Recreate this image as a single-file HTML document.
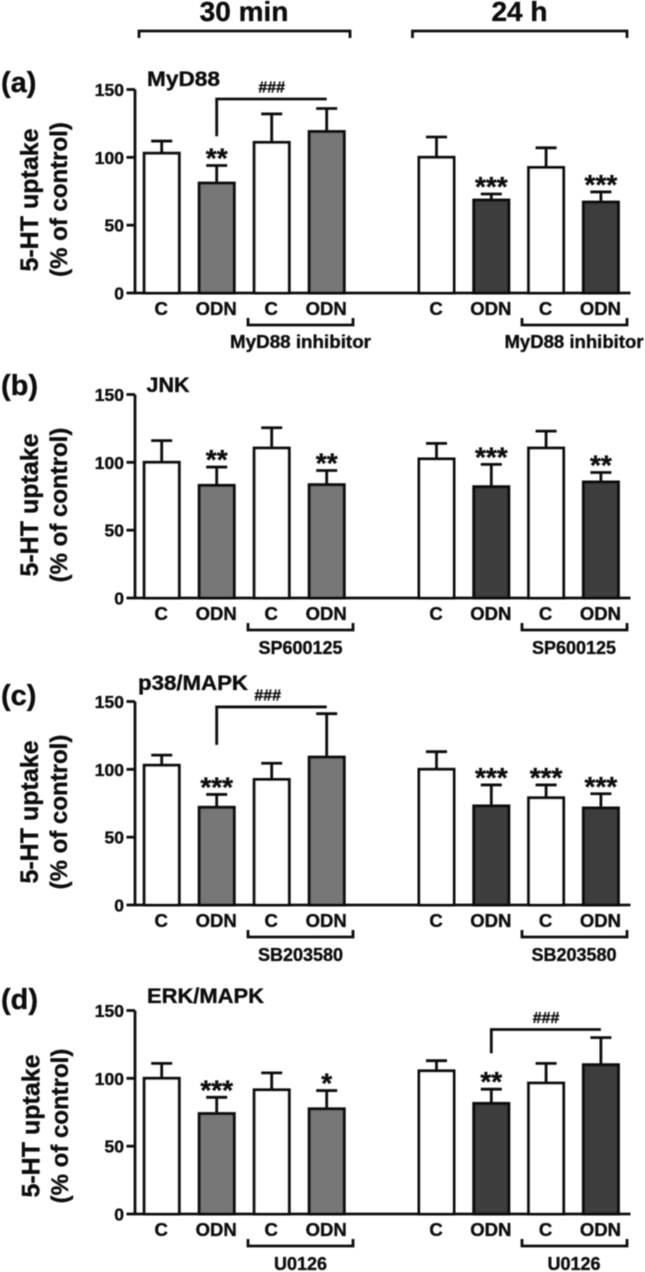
<!DOCTYPE html>
<html lang="en">
<head>
<meta charset="utf-8">
<title>5-HT uptake bar charts</title>
<style>
html,body{margin:0;padding:0;background:#fff;width:645px;height:1272px;overflow:hidden}
svg{display:block}
text{font-family:"Liberation Sans",Arial,sans-serif;font-weight:bold;fill:#0a0a0a;stroke:#0a0a0a;stroke-width:0.35px}
</style>
</head>
<body>
<svg id="figure" xmlns="http://www.w3.org/2000/svg" width="645" height="1272" viewBox="0 0 645 1272">
  <defs><filter id="soft" x="-2%" y="-2%" width="104%" height="104%"><feGaussianBlur stdDeviation="0.4"/></filter></defs>
  <rect width="645" height="1272" fill="#fff"/>
  <g id="root" filter="url(#soft)">
    <text x="244" y="21" font-size="28" text-anchor="middle">30 min</text>
    <text x="519.500" y="21" font-size="28" text-anchor="middle">24 h</text>
    <path d="M139 38V31H350V38" fill="none" stroke="#0a0a0a" stroke-width="2.800"/>
    <path d="M412.500 38V31H627V38" fill="none" stroke="#0a0a0a" stroke-width="2.800"/>

    <g id="panel-a" transform="translate(0,293)">
      <text x="1" y="-201" font-size="29">(a)</text>
      <text x="147" y="-207" font-size="21" textLength="73" lengthAdjust="spacingAndGlyphs">MyD88</text>
      <text transform="translate(38,-93) rotate(-90)" font-size="25" text-anchor="middle">5-HT uptake</text>
      <text transform="translate(67,-93.500) rotate(-90)" font-size="24" text-anchor="middle">(% of control)</text>
      <text x="300.500" y="55" font-size="18.500" text-anchor="middle" textLength="141" lengthAdjust="spacingAndGlyphs">MyD88 inhibitor</text>
      <text x="574" y="55" font-size="18.500" text-anchor="middle" textLength="139" lengthAdjust="spacingAndGlyphs">MyD88 inhibitor</text>
    </g>
    <g id="panel-b" transform="translate(0,598)">
      <text x="1" y="-203" font-size="29">(b)</text>
      <text x="146.500" y="-206" font-size="21" textLength="43" lengthAdjust="spacingAndGlyphs">JNK</text>
      <text transform="translate(38,-93) rotate(-90)" font-size="25" text-anchor="middle">5-HT uptake</text>
      <text transform="translate(67,-93) rotate(-90)" font-size="24" text-anchor="middle">(% of control)</text>
      <text x="300.500" y="56" font-size="18" text-anchor="middle">SP600125</text>
      <text x="574" y="56" font-size="18" text-anchor="middle">SP600125</text>
    </g>
    <g id="panel-c" transform="translate(0,905)">
      <text x="1" y="-200" font-size="29">(c)</text>
      <text x="138" y="-215" font-size="21" textLength="110" lengthAdjust="spacingAndGlyphs">p38/MAPK</text>
      <text transform="translate(38,-93) rotate(-90)" font-size="25" text-anchor="middle">5-HT uptake</text>
      <text transform="translate(67,-93) rotate(-90)" font-size="24" text-anchor="middle">(% of control)</text>
      <text x="300.500" y="56" font-size="18" text-anchor="middle">SB203580</text>
      <text x="574" y="56" font-size="18" text-anchor="middle">SB203580</text>
    </g>
    <g id="panel-d" transform="translate(0,1214)">
      <text x="1" y="-205" font-size="29">(d)</text>
      <text x="147" y="-211" font-size="21" textLength="117" lengthAdjust="spacingAndGlyphs">ERK/MAPK</text>
      <text transform="translate(39.500,-88) rotate(-90)" font-size="25" text-anchor="middle">5-HT uptake</text>
      <text transform="translate(68,-88) rotate(-90)" font-size="24" text-anchor="middle">(% of control)</text>
      <text x="300.500" y="56" font-size="18" text-anchor="middle">U0126</text>
      <text x="574" y="56" font-size="18" text-anchor="middle">U0126</text>
    </g>
  </g>
</svg>
<script>
const categories = ['C', 'ODN', 'C', 'ODN', 'C', 'ODN', 'C', 'ODN'];
const yTicks = [0, 50, 100, 150];

const panelAMeans = [103, 81, 111, 119, 100, 68.5, 92.5, 67];
const panelAUpper = [112, 94, 132, 136, 115, 73, 107, 74.5];
const panelAStars = ['', '**', '', '', '', '***', '', '***'];
const panelAHash = [1, 3, 115.5, 143];

const panelBMeans = [100, 83, 110.5, 83.5, 102.5, 82, 110.5, 85.5];
const panelBUpper = [116, 96.5, 125.5, 94, 114, 98.5, 123, 92.5];
const panelBStars = ['', '**', '', '**', '', '***', '', '**'];
const panelBHash = [];

const panelCMeans = [103, 72, 92.5, 109, 100, 73, 79, 71.5];
const panelCUpper = [110.5, 81.5, 104.5, 141, 113, 88.5, 88.5, 82];
const panelCStars = ['', '***', '', '', '', '***', '***', '***'];
const panelCHash = [1, 3, 118, 146];

const panelDMeans = [100, 74, 91.5, 77.5, 105.5, 81.5, 96.5, 110];
const panelDUpper = [111, 86, 104, 91, 113, 92, 111, 130];
const panelDStars = ['', '***', '', '*', '', '**', '', ''];
const panelDHash = [5, 7, 118.5, 136];

const NS = 'http://www.w3.org/2000/svg';
const axisHeight = 203.5;
const yMax = 150;
function yScale(v) { return -v / yMax * axisHeight; }
function xPos(i) { return i < 4 ? 161.7 + i * 55 : 436.5 + (i - 4) * 54.8; }

function shape(parent, tag) {
  const el = document.createElementNS(NS, tag);
  parent.appendChild(el);
  return el;
}
function put(el, props) {
  for (const k in props) el.setAttribute(k, props[k]);
  return el;
}

function drawPanel(id, means, upper, stars, hash, hashShift) {
  const g = document.getElementById(id);
  const ink = '#0a0a0a';

  const yAxis = shape(g, 'path');
  
  
  put(yAxis, { d: 'M135 ' + yScale(yMax) + 'V0', fill: 'none', stroke: ink, 'stroke-width': 2.8 });

  yTicks.forEach(function (t) {
    const tick = shape(g, 'line');
    
    
    put(tick, { x1: 126.5, x2: 135, y1: yScale(t), y2: yScale(t), stroke: ink, 'stroke-width': 2.8 });
    const label = shape(g, 'text');
    
    
    put(label, { x: 124, y: yScale(t) + 6.5, 'font-size': 17.5, 'text-anchor': 'end' });
    label.textContent = String(t);
  });

  means.forEach(function (m, i) {
    const cx = xPos(i);
    const whisker = shape(g, 'path');
    
    
    put(whisker, {
      d: 'M' + cx + ' ' + yScale(m) + 'V' + yScale(upper[i]) + 'M' + (cx - 10.5) + ' ' + yScale(upper[i]) + 'H' + (cx + 10.5),
      fill: 'none', stroke: ink, 'stroke-width': 2.8
    });

    const bar = shape(g, 'rect');
    
    
    const fill = i % 2 === 0 ? '#fff' : (i < 4 ? '#777' : '#3c3c3c');
    put(bar, { x: cx - 17.5, y: yScale(m), width: 35, height: -yScale(m), fill: fill, stroke: ink, 'stroke-width': 3 });

    const cat = shape(g, 'text');
    
    
    put(cat, { x: cx - 0.5, y: 22, 'font-size': 18.5, 'text-anchor': 'middle' });
    cat.textContent = categories[i];

    if (stars[i]) {
      const star = shape(g, 'text');
      
      
      put(star, { x: cx, y: yScale(upper[i]) + 2, 'font-size': 28, 'text-anchor': 'middle' });
      star.textContent = stars[i];
    }
  });

  const xAxis = shape(g, 'line');
  
  
  put(xAxis, { x1: 133.8, x2: 630.5, y1: 0, y2: 0, stroke: ink, 'stroke-width': 2.8 });

  const inhibitorLeft = shape(g, 'path');
  
  
  put(inhibitorLeft, { d: 'M248 25V32H353V25', fill: 'none', stroke: ink, 'stroke-width': 2.8 });

  const inhibitorRight = shape(g, 'path');
  
  
  put(inhibitorRight, { d: 'M522 25V32H627V25', fill: 'none', stroke: ink, 'stroke-width': 2.8 });

  if (hash.length) {
    const x1 = xPos(hash[0]);
    const x2 = xPos(hash[1]);
    const link = shape(g, 'path');
    
    
    put(link, {
      d: 'M' + x1 + ' ' + yScale(hash[2]) + 'V' + yScale(hash[3]) + 'H' + x2,
      fill: 'none', stroke: ink, 'stroke-width': 2.8
    });
    const mark = shape(g, 'text');
    
    
    put(mark, { x: (x1 + x2) / 2 + hashShift, y: yScale(hash[3]) - 6.5, 'font-size': 16, 'text-anchor': 'middle', 'stroke-width': 0.7 });
    mark.textContent = '###';
  }
}

drawPanel('panel-a', panelAMeans, panelAUpper, panelAStars, panelAHash, 0);
drawPanel('panel-b', panelBMeans, panelBUpper, panelBStars, panelBHash, 0);
drawPanel('panel-c', panelCMeans, panelCUpper, panelCStars, panelCHash, -4);
drawPanel('panel-d', panelDMeans, panelDUpper, panelDStars, panelDHash, 0);
</script>
</body>
</html>
